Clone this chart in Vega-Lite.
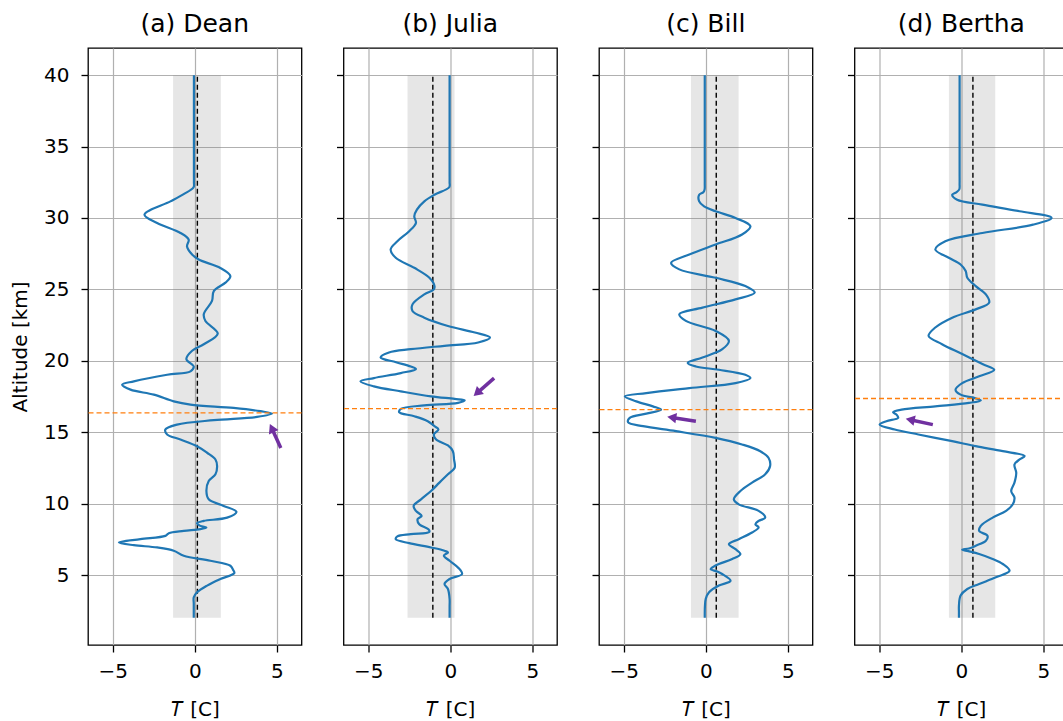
{
  "$schema": "https://vega.github.io/schema/vega-lite/v6.json",
  "background": "white",
  "padding": {"left": 9, "top": 11, "right": 0, "bottom": 0},
  "datasets": {
    "meta": [
      {"p": "a", "lo": -1.32, "hi": 1.59, "mean": 0.16, "bot": 2, "top": 40, "pbl": 16.35, "tx": 5.24, "ty": 13.9, "hx": 4.69, "hy": 15.28},
      {"p": "b", "lo": -2.6, "hi": 0.26, "mean": -1.06, "bot": 2, "top": 40, "pbl": 16.65, "tx": 2.67, "ty": 18.79, "hx": 1.63, "hy": 17.74},
      {"p": "c", "lo": -0.9, "hi": 2.0, "mean": 0.64, "bot": 2, "top": 40, "pbl": 16.58, "tx": -0.6, "ty": 15.76, "hx": -2.07, "hy": 16.03},
      {"p": "d", "lo": -0.75, "hi": 2.07, "mean": 0.71, "bot": 2, "top": 40, "pbl": 17.36, "tx": -1.73, "ty": 15.53, "hx": -3.11, "hy": 15.87}
    ],
    "dean": [
      {"alt": 40, "t": -0.05}, {"alt": 38, "t": -0.05}, {"alt": 36, "t": -0.05}, {"alt": 34, "t": -0.05}, {"alt": 33, "t": -0.05}, {"alt": 32.5, "t": -0.05}, {"alt": 32.15, "t": -0.07}, {"alt": 31.65, "t": -0.7}, {"alt": 31.16, "t": -1.48}, {"alt": 30.23, "t": -3.06}, {"alt": 29.65, "t": -2.29}, {"alt": 28.95, "t": -0.87}, {"alt": 28.49, "t": -0.37}, {"alt": 28.0, "t": -0.47}, {"alt": 27.44, "t": -0.16}, {"alt": 27.09, "t": 0.24}, {"alt": 26.5, "t": 1.56}, {"alt": 25.93, "t": 2.17}, {"alt": 25.47, "t": 1.87}, {"alt": 24.88, "t": 1.16}, {"alt": 24.19, "t": 1.05}, {"alt": 23.26, "t": 0.55}, {"alt": 22.79, "t": 0.65}, {"alt": 21.9, "t": 1.4}, {"alt": 21.16, "t": 0.55}, {"alt": 20.7, "t": -0.16}, {"alt": 20.12, "t": -0.51}, {"alt": 19.6, "t": -0.06}, {"alt": 19.26, "t": -0.26}, {"alt": 19.02, "t": -1.68}, {"alt": 18.56, "t": -3.71}, {"alt": 18.33, "t": -4.42}, {"alt": 17.98, "t": -3.91}, {"alt": 17.63, "t": -2.49}, {"alt": 17.16, "t": -1.28}, {"alt": 16.93, "t": -0.26}, {"alt": 16.7, "t": 2.37}, {"alt": 16.47, "t": 4.0}, {"alt": 16.3, "t": 4.71}, {"alt": 16.07, "t": 3.79}, {"alt": 15.84, "t": 1.16}, {"alt": 15.53, "t": -1.08}, {"alt": 15.19, "t": -1.79}, {"alt": 14.84, "t": -1.68}, {"alt": 14.49, "t": -0.87}, {"alt": 14.02, "t": 0.14}, {"alt": 13.56, "t": 0.75}, {"alt": 13.09, "t": 1.26}, {"alt": 12.63, "t": 1.36}, {"alt": 12.05, "t": 1.26}, {"alt": 11.58, "t": 0.85}, {"alt": 10.88, "t": 0.71}, {"alt": 10.3, "t": 0.85}, {"alt": 9.84, "t": 1.76}, {"alt": 9.42, "t": 2.54}, {"alt": 9.02, "t": 1.97}, {"alt": 8.79, "t": 0.55}, {"alt": 8.63, "t": 0.14}, {"alt": 8.44, "t": 0.34}, {"alt": 8.33, "t": 0.71}, {"alt": 8.21, "t": 0.34}, {"alt": 8.09, "t": -0.67}, {"alt": 7.93, "t": -1.58}, {"alt": 7.74, "t": -1.79}, {"alt": 7.51, "t": -3.31}, {"alt": 7.28, "t": -4.62}, {"alt": 7.09, "t": -3.71}, {"alt": 6.93, "t": -2.29}, {"alt": 6.7, "t": -1.28}, {"alt": 6.35, "t": -0.67}, {"alt": 6.0, "t": 0.95}, {"alt": 5.65, "t": 2.17}, {"alt": 5.37, "t": 2.33}, {"alt": 5.14, "t": 2.41}, {"alt": 4.72, "t": 1.56}, {"alt": 4.26, "t": 0.75}, {"alt": 3.79, "t": 0.14}, {"alt": 3.44, "t": -0.06}, {"alt": 3.0, "t": -0.06}, {"alt": 2.5, "t": -0.06}, {"alt": 2.0, "t": -0.06}
    ],
    "julia": [
      {"alt": 40, "t": -0.04}, {"alt": 38, "t": -0.04}, {"alt": 36, "t": -0.04}, {"alt": 34, "t": -0.04}, {"alt": 33, "t": -0.04}, {"alt": 32.5, "t": -0.04}, {"alt": 32.15, "t": -0.06}, {"alt": 31.63, "t": -0.96}, {"alt": 31.16, "t": -1.58}, {"alt": 30.58, "t": -2.03}, {"alt": 30.12, "t": -2.19}, {"alt": 29.65, "t": -2.09}, {"alt": 29.07, "t": -2.5}, {"alt": 28.37, "t": -3.22}, {"alt": 27.79, "t": -3.63}, {"alt": 27.21, "t": -3.32}, {"alt": 26.51, "t": -2.19}, {"alt": 25.81, "t": -1.27}, {"alt": 25.23, "t": -0.96}, {"alt": 25.0, "t": -1.0}, {"alt": 24.65, "t": -1.58}, {"alt": 23.95, "t": -2.3}, {"alt": 23.49, "t": -2.3}, {"alt": 23.02, "t": -1.58}, {"alt": 22.44, "t": -0.14}, {"alt": 21.98, "t": 1.5}, {"alt": 21.63, "t": 2.42}, {"alt": 21.28, "t": 1.7}, {"alt": 21.05, "t": -0.35}, {"alt": 20.81, "t": -2.4}, {"alt": 20.58, "t": -3.73}, {"alt": 20.23, "t": -4.24}, {"alt": 19.9, "t": -3.3}, {"alt": 19.6, "t": -2.4}, {"alt": 19.42, "t": -2.09}, {"alt": 19.14, "t": -3.01}, {"alt": 18.79, "t": -4.65}, {"alt": 18.56, "t": -5.47}, {"alt": 18.21, "t": -4.65}, {"alt": 17.86, "t": -3.01}, {"alt": 17.51, "t": -1.17}, {"alt": 17.33, "t": 0.27}, {"alt": 17.23, "t": 0.88}, {"alt": 17.05, "t": 0.47}, {"alt": 16.88, "t": -1.58}, {"alt": 16.63, "t": -3.01}, {"alt": 16.4, "t": -3.11}, {"alt": 16.12, "t": -2.19}, {"alt": 15.77, "t": -1.37}, {"alt": 15.42, "t": -0.96}, {"alt": 15.19, "t": -0.72}, {"alt": 14.84, "t": -1.0}, {"alt": 14.49, "t": -0.86}, {"alt": 14.07, "t": -0.14}, {"alt": 13.67, "t": 0.16}, {"alt": 13.09, "t": 0.23}, {"alt": 12.51, "t": 0.27}, {"alt": 12.05, "t": -0.14}, {"alt": 11.47, "t": -0.66}, {"alt": 10.88, "t": -1.17}, {"alt": 10.3, "t": -1.78}, {"alt": 9.84, "t": -2.23}, {"alt": 9.49, "t": -2.09}, {"alt": 9.14, "t": -1.74}, {"alt": 8.91, "t": -1.99}, {"alt": 8.56, "t": -1.89}, {"alt": 8.21, "t": -1.33}, {"alt": 8.02, "t": -1.27}, {"alt": 7.86, "t": -2.4}, {"alt": 7.7, "t": -3.22}, {"alt": 7.51, "t": -3.32}, {"alt": 7.23, "t": -2.5}, {"alt": 6.93, "t": -1.17}, {"alt": 6.7, "t": -0.35}, {"alt": 6.58, "t": -0.14}, {"alt": 6.35, "t": -0.39}, {"alt": 6.0, "t": -0.04}, {"alt": 5.53, "t": 0.47}, {"alt": 5.07, "t": 0.72}, {"alt": 4.72, "t": -0.04}, {"alt": 4.37, "t": -0.35}, {"alt": 4.02, "t": -0.14}, {"alt": 3.33, "t": -0.04}, {"alt": 2.8, "t": -0.04}, {"alt": 2.4, "t": -0.04}, {"alt": 2.0, "t": -0.04}
    ],
    "bill": [
      {"alt": 40, "t": -0.06}, {"alt": 38, "t": -0.06}, {"alt": 36, "t": -0.06}, {"alt": 34, "t": -0.06}, {"alt": 33, "t": -0.06}, {"alt": 32.4, "t": -0.06}, {"alt": 32.0, "t": -0.07}, {"alt": 31.8, "t": -0.15}, {"alt": 31.63, "t": -0.4}, {"alt": 31.16, "t": -0.4}, {"alt": 30.81, "t": -0.1}, {"alt": 30.47, "t": 0.6}, {"alt": 30.0, "t": 1.81}, {"alt": 29.42, "t": 2.72}, {"alt": 28.84, "t": 2.21}, {"alt": 28.14, "t": 0.6}, {"alt": 27.44, "t": -1.0}, {"alt": 26.86, "t": -2.11}, {"alt": 26.4, "t": -1.61}, {"alt": 25.81, "t": 0.6}, {"alt": 25.23, "t": 2.41}, {"alt": 24.77, "t": 2.98}, {"alt": 24.3, "t": 1.81}, {"alt": 23.72, "t": -0.2}, {"alt": 23.26, "t": -1.61}, {"alt": 22.79, "t": -1.21}, {"alt": 22.09, "t": 0.6}, {"alt": 21.4, "t": 1.41}, {"alt": 20.81, "t": 1.01}, {"alt": 20.23, "t": -0.2}, {"alt": 19.85, "t": -1.1}, {"alt": 19.6, "t": -0.6}, {"alt": 19.37, "t": 0.8}, {"alt": 19.02, "t": 2.41}, {"alt": 18.79, "t": 2.72}, {"alt": 18.44, "t": 1.81}, {"alt": 18.09, "t": -1.0}, {"alt": 17.74, "t": -3.62}, {"alt": 17.51, "t": -4.93}, {"alt": 17.16, "t": -4.23}, {"alt": 16.81, "t": -3.22}, {"alt": 16.58, "t": -2.72}, {"alt": 16.3, "t": -3.62}, {"alt": 16.0, "t": -4.63}, {"alt": 15.7, "t": -4.73}, {"alt": 15.42, "t": -3.82}, {"alt": 15.07, "t": -1.81}, {"alt": 14.6, "t": 0.6}, {"alt": 14.14, "t": 2.21}, {"alt": 13.67, "t": 3.32}, {"alt": 13.21, "t": 3.82}, {"alt": 12.63, "t": 3.92}, {"alt": 12.05, "t": 3.62}, {"alt": 11.47, "t": 2.82}, {"alt": 10.88, "t": 2.11}, {"alt": 10.3, "t": 1.71}, {"alt": 9.95, "t": 2.01}, {"alt": 9.49, "t": 3.22}, {"alt": 9.02, "t": 3.62}, {"alt": 8.79, "t": 3.22}, {"alt": 8.56, "t": 3.02}, {"alt": 8.33, "t": 3.22}, {"alt": 7.98, "t": 2.82}, {"alt": 7.51, "t": 2.01}, {"alt": 7.16, "t": 1.41}, {"alt": 6.81, "t": 1.81}, {"alt": 6.47, "t": 2.11}, {"alt": 6.12, "t": 1.61}, {"alt": 5.77, "t": 0.8}, {"alt": 5.53, "t": 0.4}, {"alt": 5.4, "t": 0.3}, {"alt": 5.25, "t": 0.7}, {"alt": 5.07, "t": 1.0}, {"alt": 4.6, "t": 1.51}, {"alt": 4.26, "t": 0.8}, {"alt": 3.79, "t": 0.2}, {"alt": 3.33, "t": 0.0}, {"alt": 2.8, "t": -0.05}, {"alt": 2.4, "t": -0.06}, {"alt": 2.0, "t": -0.06}
    ],
    "bertha": [
      {"alt": 40, "t": -0.1}, {"alt": 38, "t": -0.1}, {"alt": 36, "t": -0.1}, {"alt": 34, "t": -0.1}, {"alt": 33, "t": -0.1}, {"alt": 32.4, "t": -0.1}, {"alt": 32.0, "t": -0.12}, {"alt": 31.8, "t": -0.3}, {"alt": 31.63, "t": -0.55}, {"alt": 31.28, "t": -0.25}, {"alt": 30.93, "t": 1.29}, {"alt": 30.47, "t": 3.55}, {"alt": 30.0, "t": 5.5}, {"alt": 29.53, "t": 4.37}, {"alt": 28.95, "t": 1.29}, {"alt": 28.37, "t": -0.97}, {"alt": 27.79, "t": -1.58}, {"alt": 27.21, "t": -0.76}, {"alt": 26.74, "t": -0.04}, {"alt": 26.28, "t": 0.27}, {"alt": 25.81, "t": 0.37}, {"alt": 25.23, "t": 0.88}, {"alt": 24.65, "t": 1.5}, {"alt": 24.07, "t": 1.7}, {"alt": 23.6, "t": 0.88}, {"alt": 23.02, "t": -0.55}, {"alt": 22.33, "t": -1.58}, {"alt": 21.74, "t": -1.99}, {"alt": 21.16, "t": -1.17}, {"alt": 20.47, "t": 0.06}, {"alt": 19.77, "t": 1.29}, {"alt": 19.37, "t": 2.01}, {"alt": 18.91, "t": 1.09}, {"alt": 18.44, "t": 0.06}, {"alt": 17.98, "t": -0.35}, {"alt": 17.63, "t": -0.04}, {"alt": 17.4, "t": 0.78}, {"alt": 17.23, "t": 1.19}, {"alt": 17.05, "t": 0.47}, {"alt": 16.81, "t": -1.58}, {"alt": 16.58, "t": -3.63}, {"alt": 16.4, "t": -4.15}, {"alt": 16.23, "t": -3.94}, {"alt": 16.0, "t": -3.84}, {"alt": 15.77, "t": -4.56}, {"alt": 15.53, "t": -4.97}, {"alt": 15.19, "t": -4.05}, {"alt": 14.84, "t": -2.61}, {"alt": 14.37, "t": -0.55}, {"alt": 14.02, "t": 0.88}, {"alt": 13.67, "t": 2.53}, {"alt": 13.33, "t": 3.86}, {"alt": 13.09, "t": 3.55}, {"alt": 12.74, "t": 3.24}, {"alt": 12.16, "t": 3.35}, {"alt": 11.47, "t": 3.24}, {"alt": 10.88, "t": 3.04}, {"alt": 10.42, "t": 3.24}, {"alt": 9.95, "t": 3.14}, {"alt": 9.49, "t": 2.73}, {"alt": 9.02, "t": 1.91}, {"alt": 8.44, "t": 1.19}, {"alt": 8.09, "t": 1.09}, {"alt": 7.74, "t": 1.6}, {"alt": 7.4, "t": 1.5}, {"alt": 7.05, "t": 0.88}, {"alt": 6.86, "t": 0.47}, {"alt": 6.77, "t": 0.06}, {"alt": 6.67, "t": 0.43}, {"alt": 6.47, "t": 1.09}, {"alt": 6.12, "t": 1.91}, {"alt": 5.77, "t": 2.53}, {"alt": 5.3, "t": 2.94}, {"alt": 4.84, "t": 2.11}, {"alt": 4.37, "t": 1.09}, {"alt": 4.02, "t": 0.37}, {"alt": 3.56, "t": -0.04}, {"alt": 2.86, "t": -0.14}, {"alt": 2.4, "t": -0.14}, {"alt": 2.0, "t": -0.14}
    ]
  },
  "hconcat": [
    {
      "width": 213.5, "height": 597,
      "title": "(a) Dean",
      "layer": [
        {"data": {"name": "meta"}, "transform": [{"filter": "datum.p == 'a'"}],
         "mark": {"type": "rect", "color": "#808080", "opacity": 0.2},
         "encoding": {
           "x": {"field": "lo", "type": "quantitative", "scale": {"domain": [-6.5, 6.5], "nice": false, "zero": false}, "axis": {"values": [-5, 0, 5], "title": "𝑇 [C]"}},
           "x2": {"field": "hi"},
           "y": {"field": "bot", "type": "quantitative", "scale": {"domain": [0.1, 41.9], "nice": false, "zero": false}, "axis": {"values": [5, 10, 15, 20, 25, 30, 35, 40], "title": "Altitude [km]"}},
           "y2": {"field": "top"}}},
        {"data": {"name": "meta"}, "transform": [{"filter": "datum.p == 'a'"}],
         "mark": {"type": "rule", "color": "black", "strokeDash": [5, 3], "strokeWidth": 1.4},
         "encoding": {"x": {"field": "mean", "type": "quantitative"}, "y": {"field": "bot", "type": "quantitative"}, "y2": {"field": "top"}}},
        {"data": {"name": "dean"},
         "mark": {"type": "line", "color": "#1f77b4", "strokeWidth": 2.2, "interpolate": "catmull-rom"},
         "encoding": {"x": {"field": "t", "type": "quantitative"}, "y": {"field": "alt", "type": "quantitative"}, "order": {"field": "alt", "type": "quantitative"}}},
        {"data": {"name": "meta"}, "transform": [{"filter": "datum.p == 'a'"}],
         "mark": {"type": "rule", "color": "#ff7f0e", "strokeDash": [5, 3], "strokeWidth": 1.4},
         "encoding": {"y": {"field": "pbl", "type": "quantitative"}}},
        {"data": {"name": "meta"}, "transform": [{"filter": "datum.p == 'a'"}],
         "mark": {"type": "rule", "color": "#7030a0", "strokeWidth": 3.5},
         "encoding": {"x": {"field": "tx", "type": "quantitative"}, "y": {"field": "ty", "type": "quantitative"}, "x2": {"field": "hx"}, "y2": {"field": "hy"}}},
        {"data": {"name": "meta"}, "transform": [{"filter": "datum.p == 'a'"}],
         "mark": {"type": "point", "shape": "triangle-up", "filled": true, "color": "#7030a0", "opacity": 1, "size": 110, "angle": 335},
         "encoding": {"x": {"field": "hx", "type": "quantitative"}, "y": {"field": "hy", "type": "quantitative"}}}
      ]
    },
    {
      "width": 213.5, "height": 597,
      "title": "(b) Julia",
      "layer": [
        {"data": {"name": "meta"}, "transform": [{"filter": "datum.p == 'b'"}],
         "mark": {"type": "rect", "color": "#808080", "opacity": 0.2},
         "encoding": {
           "x": {"field": "lo", "type": "quantitative", "scale": {"domain": [-6.5, 6.5], "nice": false, "zero": false}, "axis": {"values": [-5, 0, 5], "title": "𝑇 [C]"}},
           "x2": {"field": "hi"},
           "y": {"field": "bot", "type": "quantitative", "scale": {"domain": [0.1, 41.9], "nice": false, "zero": false}, "axis": {"values": [5, 10, 15, 20, 25, 30, 35, 40], "labels": false, "title": null}},
           "y2": {"field": "top"}}},
        {"data": {"name": "meta"}, "transform": [{"filter": "datum.p == 'b'"}],
         "mark": {"type": "rule", "color": "black", "strokeDash": [5, 3], "strokeWidth": 1.4},
         "encoding": {"x": {"field": "mean", "type": "quantitative"}, "y": {"field": "bot", "type": "quantitative"}, "y2": {"field": "top"}}},
        {"data": {"name": "julia"},
         "mark": {"type": "line", "color": "#1f77b4", "strokeWidth": 2.2, "interpolate": "catmull-rom"},
         "encoding": {"x": {"field": "t", "type": "quantitative"}, "y": {"field": "alt", "type": "quantitative"}, "order": {"field": "alt", "type": "quantitative"}}},
        {"data": {"name": "meta"}, "transform": [{"filter": "datum.p == 'b'"}],
         "mark": {"type": "rule", "color": "#ff7f0e", "strokeDash": [5, 3], "strokeWidth": 1.4},
         "encoding": {"y": {"field": "pbl", "type": "quantitative"}}},
        {"data": {"name": "meta"}, "transform": [{"filter": "datum.p == 'b'"}],
         "mark": {"type": "rule", "color": "#7030a0", "strokeWidth": 3.5},
         "encoding": {"x": {"field": "tx", "type": "quantitative"}, "y": {"field": "ty", "type": "quantitative"}, "x2": {"field": "hx"}, "y2": {"field": "hy"}}},
        {"data": {"name": "meta"}, "transform": [{"filter": "datum.p == 'b'"}],
         "mark": {"type": "point", "shape": "triangle-up", "filled": true, "color": "#7030a0", "opacity": 1, "size": 110, "angle": 228},
         "encoding": {"x": {"field": "hx", "type": "quantitative"}, "y": {"field": "hy", "type": "quantitative"}}}
      ]
    },
    {
      "width": 213.5, "height": 597,
      "title": "(c) Bill",
      "layer": [
        {"data": {"name": "meta"}, "transform": [{"filter": "datum.p == 'c'"}],
         "mark": {"type": "rect", "color": "#808080", "opacity": 0.2},
         "encoding": {
           "x": {"field": "lo", "type": "quantitative", "scale": {"domain": [-6.5, 6.5], "nice": false, "zero": false}, "axis": {"values": [-5, 0, 5], "title": "𝑇 [C]"}},
           "x2": {"field": "hi"},
           "y": {"field": "bot", "type": "quantitative", "scale": {"domain": [0.1, 41.9], "nice": false, "zero": false}, "axis": {"values": [5, 10, 15, 20, 25, 30, 35, 40], "labels": false, "title": null}},
           "y2": {"field": "top"}}},
        {"data": {"name": "meta"}, "transform": [{"filter": "datum.p == 'c'"}],
         "mark": {"type": "rule", "color": "black", "strokeDash": [5, 3], "strokeWidth": 1.4},
         "encoding": {"x": {"field": "mean", "type": "quantitative"}, "y": {"field": "bot", "type": "quantitative"}, "y2": {"field": "top"}}},
        {"data": {"name": "bill"},
         "mark": {"type": "line", "color": "#1f77b4", "strokeWidth": 2.2, "interpolate": "catmull-rom"},
         "encoding": {"x": {"field": "t", "type": "quantitative"}, "y": {"field": "alt", "type": "quantitative"}, "order": {"field": "alt", "type": "quantitative"}}},
        {"data": {"name": "meta"}, "transform": [{"filter": "datum.p == 'c'"}],
         "mark": {"type": "rule", "color": "#ff7f0e", "strokeDash": [5, 3], "strokeWidth": 1.4},
         "encoding": {"y": {"field": "pbl", "type": "quantitative"}}},
        {"data": {"name": "meta"}, "transform": [{"filter": "datum.p == 'c'"}],
         "mark": {"type": "rule", "color": "#7030a0", "strokeWidth": 3.5},
         "encoding": {"x": {"field": "tx", "type": "quantitative"}, "y": {"field": "ty", "type": "quantitative"}, "x2": {"field": "hx"}, "y2": {"field": "hy"}}},
        {"data": {"name": "meta"}, "transform": [{"filter": "datum.p == 'c'"}],
         "mark": {"type": "point", "shape": "triangle-up", "filled": true, "color": "#7030a0", "opacity": 1, "size": 110, "angle": 279},
         "encoding": {"x": {"field": "hx", "type": "quantitative"}, "y": {"field": "hy", "type": "quantitative"}}}
      ]
    },
    {
      "width": 213.5, "height": 597,
      "title": "(d) Bertha",
      "layer": [
        {"data": {"name": "meta"}, "transform": [{"filter": "datum.p == 'd'"}],
         "mark": {"type": "rect", "color": "#808080", "opacity": 0.2},
         "encoding": {
           "x": {"field": "lo", "type": "quantitative", "scale": {"domain": [-6.5, 6.5], "nice": false, "zero": false}, "axis": {"values": [-5, 0, 5], "title": "𝑇 [C]"}},
           "x2": {"field": "hi"},
           "y": {"field": "bot", "type": "quantitative", "scale": {"domain": [0.1, 41.9], "nice": false, "zero": false}, "axis": {"values": [5, 10, 15, 20, 25, 30, 35, 40], "labels": false, "title": null}},
           "y2": {"field": "top"}}},
        {"data": {"name": "meta"}, "transform": [{"filter": "datum.p == 'd'"}],
         "mark": {"type": "rule", "color": "black", "strokeDash": [5, 3], "strokeWidth": 1.4},
         "encoding": {"x": {"field": "mean", "type": "quantitative"}, "y": {"field": "bot", "type": "quantitative"}, "y2": {"field": "top"}}},
        {"data": {"name": "bertha"},
         "mark": {"type": "line", "color": "#1f77b4", "strokeWidth": 2.2, "interpolate": "catmull-rom"},
         "encoding": {"x": {"field": "t", "type": "quantitative"}, "y": {"field": "alt", "type": "quantitative"}, "order": {"field": "alt", "type": "quantitative"}}},
        {"data": {"name": "meta"}, "transform": [{"filter": "datum.p == 'd'"}],
         "mark": {"type": "rule", "color": "#ff7f0e", "strokeDash": [5, 3], "strokeWidth": 1.4},
         "encoding": {"y": {"field": "pbl", "type": "quantitative"}}},
        {"data": {"name": "meta"}, "transform": [{"filter": "datum.p == 'd'"}],
         "mark": {"type": "rule", "color": "#7030a0", "strokeWidth": 3.5},
         "encoding": {"x": {"field": "tx", "type": "quantitative"}, "y": {"field": "ty", "type": "quantitative"}, "x2": {"field": "hx"}, "y2": {"field": "hy"}}},
        {"data": {"name": "meta"}, "transform": [{"filter": "datum.p == 'd'"}],
         "mark": {"type": "point", "shape": "triangle-up", "filled": true, "color": "#7030a0", "opacity": 1, "size": 110, "angle": 282},
         "encoding": {"x": {"field": "hx", "type": "quantitative"}, "y": {"field": "hy", "type": "quantitative"}}}
      ]
    }
  ],
  "spacing": 41.5,
  "bounds": "flush",
  "resolve": {"scale": {"x": "independent", "y": "independent"}},
  "config": {
    "font": "DejaVu Sans",
    "view": {"stroke": "black", "strokeWidth": 1.3},
    "axis": {
      "domain": false, "grid": true, "gridColor": "#b0b0b0", "gridWidth": 1.2,
      "ticks": true, "tickColor": "black", "tickSize": 7, "tickWidth": 1.3,
      "labelFont": "DejaVu Sans", "labelFontSize": 20, "labelColor": "black",
      "titleFont": "DejaVu Sans", "titleFontSize": 20, "titleFontWeight": "normal", "titleColor": "black"
    },
    "axisX": {"labelPadding": 9, "titlePadding": 18},
    "axisY": {"labelPadding": 12, "titlePadding": 13},
    "title": {"font": "DejaVu Sans", "fontSize": 25, "fontWeight": "normal", "color": "black", "offset": 11}
  }
}
